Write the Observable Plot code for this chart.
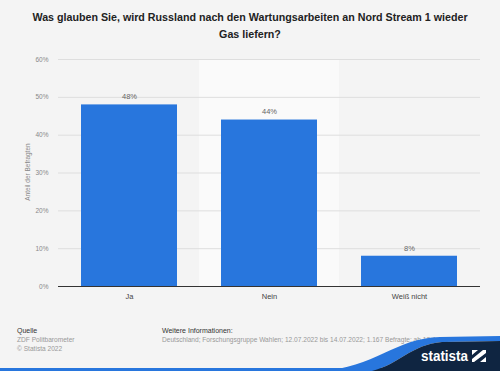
<!DOCTYPE html>
<html>
<head>
<meta charset="utf-8">
<script src="https://cdn.jsdelivr.net/npm/d3@7"></script>
<script src="https://cdn.jsdelivr.net/npm/@observablehq/plot@0.6"></script>
<style>
  html, body { margin: 0; padding: 0; }
  body { width: 500px; height: 371px; overflow: hidden; font-family: "Liberation Sans", Arial, sans-serif; }
  #wrap { position: relative; width: 500px; height: 371px; background: #f4f4f4; overflow: hidden; }
  #title { position: absolute; left: 0; top: 9px; width: 500px; text-align: center; font-weight: bold; font-size: 10.7px; line-height: 17px; color: #222; }
  #chart { position: absolute; left: 0; top: 45px; }
  #ytitle { position: absolute; left: 27px; top: 172px; transform: translate(-50%, -50%) rotate(-90deg); font-size: 6.5px; color: #888; white-space: nowrap; }
  .f { position: absolute; font-size: 6.6px; white-space: nowrap; }
  .fh { color: #333; font-size: 7px; }
  .fg { color: #999; }
  #logo { position: absolute; left: 0; top: 300px; }
</style>
</head>
<body>
<div id="wrap">
  <div id="title">Was glauben Sie, wird Russland nach den Wartungsarbeiten an Nord Stream 1 wieder<br>Gas liefern?</div>
  <div id="chart"></div>
  <div id="ytitle">Anteil der Befragten</div>
  <div class="f fh" style="left:17px; top:327px;">Quelle</div>
  <div class="f fg" style="left:17px; top:336px;">ZDF Politbarometer</div>
  <div class="f fg" style="left:17px; top:345px;">© Statista 2022</div>
  <div class="f fh" style="left:162px; top:327px;">Weitere Informationen:</div>
  <div class="f fg" style="left:162px; top:336px;">Deutschland; Forschungsgruppe Wahlen; 12.07.2022 bis 14.07.2022; 1.167 Befragte; ab 18 Jahre</div>
  <svg id="logo" width="500" height="71" viewBox="0 300 500 71">
    <rect x="0" y="368" width="500" height="3" fill="#2876dd"/>
    <path d="M 320 371 C 375 368, 395 338, 440 337 L 500 336 L 500 341 L 442 342 C 410 345, 400 364, 372 371 Z" fill="#2876dd"/>
    <path d="M 372 371 C 400 364, 410 345, 442 342 L 500 341 L 500 371 Z" fill="#0f2541"/>
    <text x="421" y="361" fill="#fff" font-family="Liberation Sans" font-weight="bold" font-size="14" textLength="47" lengthAdjust="spacingAndGlyphs">statista</text>
    <path d="M 472 350 L 486 350 L 486 362 L 472 362 Z" fill="#fff"/>
    <path d="M 474 362 L 486 353 L 486 357 L 480 362 Z M 472 359 L 483 350 L 478 350 L 472 355 Z" fill="#0f2541"/>
  </svg>
</div>
<script>
const categories = ["Ja", "Nein", "Weiß nicht"];
const values = [48, 44, 8];
const yTicks = [0, 10, 20, 30, 40, 50, 60];
const highlighted = ["Nein"];

const data = categories.map((c, i) => ({cat: c, value: values[i]}));
const pct = d => d + "%";

const chart = Plot.plot({
  width: 500,
  height: 265,
  marginTop: 14,
  marginBottom: 24,
  marginLeft: 58,
  marginRight: 20,
  style: {background: "transparent", fontFamily: "Liberation Sans, Arial, sans-serif"},
  x: {domain: categories, padding: 0, label: null},
  y: {domain: [0, 60], label: null},
  marks: [
    Plot.barY(highlighted, {x: d => d, y1: 0, y2: 60, fill: "#fafafa"}),
    Plot.gridY(yTicks, {stroke: "#dedede", strokeOpacity: 1}),
    Plot.barY(data, {x: "cat", y: "value", fill: "#2876dd", insetLeft: 22, insetRight: 22}),
    Plot.ruleY([0], {stroke: "#333", strokeWidth: 1}),
    Plot.text(data, {x: "cat", y: "value", text: d => pct(d.value), dy: -8, fill: "#666", fontSize: 7.5}),
    Plot.axisY(yTicks, {tickSize: 0, tickPadding: 10, tickFormat: pct, fontSize: 6.5, fill: "#888", label: null}),
    Plot.axisX({tickSize: 0, tickPadding: 7, fontSize: 7.5, fill: "#444", label: null})
  ]
});
document.getElementById("chart").appendChild(chart);
</script>
</body>
</html>
